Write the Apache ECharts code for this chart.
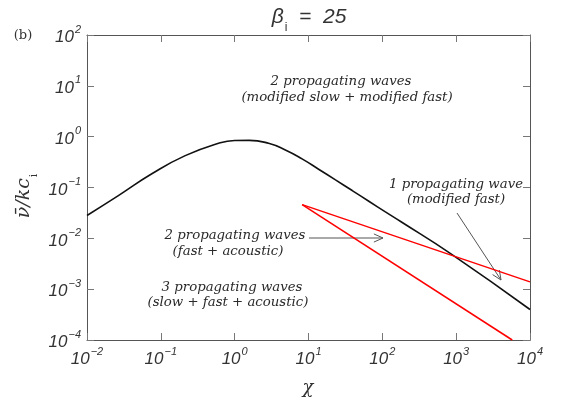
<!DOCTYPE html>
<html lang="en">
<head>
    <meta charset="UTF-8">
    <title>beta_i = 25</title>
    <style type="text/css">
        *{
            margin: 0px;
            padding: 0px;
        }
        body{
            background-color: #fff;
        }
        #chart{
            width: 573px;
            height: 410px;
        }
    </style>
</head>
<body>

<div id="chart"></div>

<script src="https://cdn.jsdelivr.net/npm/echarts@6/dist/echarts.min.js"></script>
<script type="text/javascript">
    // black curve
    var blackX = [0.01, 0.0266, 0.0755, 0.214, 0.605, 1.0, 1.58, 2.88, 4.86, 8.18, 13.7, 23.2, 39.1, 65.6, 110, 177, 841, 10000];
    var blackY = [0.0282, 0.0692, 0.186, 0.424, 0.74, 0.841, 0.847, 0.74, 0.548, 0.366, 0.229, 0.141, 0.0871, 0.0537, 0.0331, 0.0214, 0.00501, 0.000398];

    // red lines
    var redUpperX = [8.2, 10000];
    var redUpperY = [0.046, 0.00139];
    var redLowerX = [8.2, 5750];
    var redLowerY = [0.046, 0.0001];

    var xMin = 0.01, xMax = 10000;
    var yMin = 0.0001, yMax = 100;

    function pairs(xs, ys){
        var out = [];
        for (var i = 0; i < xs.length; i++) {
            out.push([xs[i], ys[i]]);
        }
        return out;
    }

    var tickFont = 'Liberation Sans';
    var noteFont = 'DejaVu Serif';

    function powLabel(v){
        var e = Math.round(Math.log(v) / Math.LN10);
        var s = e < 0 ? '\u2212' + (-e) : '' + e;
        return '{b|10}{s|' + s + '}';
    }

    var labelRich = {
        b: {fontSize: 17, fontStyle: 'italic', fontFamily: tickFont, color: '#333', lineHeight: 22, verticalAlign: 'bottom'},
        s: {fontSize: 11, fontStyle: 'italic', fontFamily: tickFont, color: '#333', lineHeight: 22, verticalAlign: 'top', padding: [0, 0, 0, 1]}
    };

    var lineCol = '#555';

    function logAxis(pos, min, max, showLabel){
        return {
            type: 'log',
            logBase: 10,
            position: pos,
            min: min,
            max: max,
            interval: 1,
            axisLine: {show: true, lineStyle: {color: lineCol, width: 1}},
            axisTick: {show: true, inside: true, length: 7, lineStyle: {color: '#777'}},
            minorTick: {show: false},
            splitLine: {show: false},
            axisLabel: {
                show: showLabel,
                margin: 6,
                formatter: powLabel,
                rich: labelRich
            }
        };
    }

    // open arrow heads
    function arrow(x1, y1, x2, y2){
        var a = Math.atan2(y2 - y1, x2 - x1);
        var L = 10, w = 0.42;
        return [
            {type: 'polyline', shape: {points: [[x1, y1], [x2, y2]]}, style: {stroke: lineCol, lineWidth: 1, fill: null}},
            {type: 'polyline', shape: {points: [
                [x2 - L * Math.cos(a - w), y2 - L * Math.sin(a - w)],
                [x2, y2],
                [x2 - L * Math.cos(a + w), y2 - L * Math.sin(a + w)]
            ]}, style: {stroke: lineCol, lineWidth: 1, fill: null}}
        ];
    }

    function note(x, y, txt){
        return {
            type: 'text', x: x, y: y,
            style: {text: txt, fontFamily: noteFont, fontStyle: 'italic', fontSize: 13.3, fill: '#2a2a2a', align: 'center', verticalAlign: 'middle'}
        };
    }

    var graphics = [
        {
            type: 'text', x: 309, y: 17,
            style: {
                text: '{a|\u03b2}{i|i}{a|  =  25}',
                align: 'center', verticalAlign: 'middle',
                rich: {
                    a: {fontSize: 21, fontStyle: 'italic', fontFamily: tickFont, fill: '#333', lineHeight: 26},
                    i: {fontSize: 12, fontFamily: tickFont, fill: '#333', lineHeight: 26, verticalAlign: 'bottom', padding: [0, 0, -4, 1]}
                }
            }
        },
        {
            type: 'text', x: 23, y: 36,
            style: {text: '(b)', fontFamily: noteFont, fontSize: 13, fill: '#333', align: 'center', verticalAlign: 'middle'}
        },
        {
            type: 'text', x: 308, y: 388,
            style: {text: '\u03c7', fontFamily: noteFont, fontStyle: 'italic', fontSize: 18, fill: '#333', align: 'center', verticalAlign: 'middle'}
        },
        {
            type: 'text', x: 24, y: 196, rotation: Math.PI / 2,
            style: {
                text: '{a|\u03bd\u0304/kc}{i|i}',
                align: 'center', verticalAlign: 'middle',
                rich: {
                    a: {fontSize: 19, fontStyle: 'italic', fontFamily: noteFont, fill: '#333', lineHeight: 24},
                    i: {fontSize: 11, fontFamily: noteFont, fill: '#333', lineHeight: 24, verticalAlign: 'bottom', padding: [0, 0, -4, 1]}
                }
            }
        },
        note(341, 82, '2 propagating waves'),
        note(347, 98, '(modified slow + modified fast)'),
        note(456, 185, '1 propagating wave'),
        note(456, 200, '(modified fast)'),
        note(235, 236, '2 propagating waves'),
        note(228, 252, '(fast + acoustic)'),
        note(232, 288, '3 propagating waves'),
        note(228, 303, '(slow + fast + acoustic)')
    ].concat(arrow(309, 238, 383, 238)).concat(arrow(457, 213, 501, 280));

    var myChart = echarts.init(document.getElementById('chart'), null, {renderer: 'canvas'});

    var option = {
        backgroundColor: '#fff',
        animation: false,
        grid: {left: 87, right: 43, top: 35, bottom: 70},
        xAxis: [
            logAxis('bottom', xMin, xMax, true),
            logAxis('top', xMin, xMax, false)
        ],
        yAxis: [
            logAxis('left', yMin, yMax, true),
            logAxis('right', yMin, yMax, false)
        ],
        graphic: graphics,
        series: [
            {
                type: 'line', name: 'black',
                data: pairs(blackX, blackY),
                showSymbol: false, smooth: 0.5,
                lineStyle: {color: '#111', width: 1.6}
            },
            {
                type: 'line', name: 'redUpper',
                data: pairs(redUpperX, redUpperY),
                showSymbol: false,
                lineStyle: {color: '#ff0000', width: 1.5}
            },
            {
                type: 'line', name: 'redLower',
                data: pairs(redLowerX, redLowerY),
                showSymbol: false,
                lineStyle: {color: '#ff0000', width: 1.5}
            }
        ]
    };
    myChart.setOption(option);
</script>
</body>
</html>
